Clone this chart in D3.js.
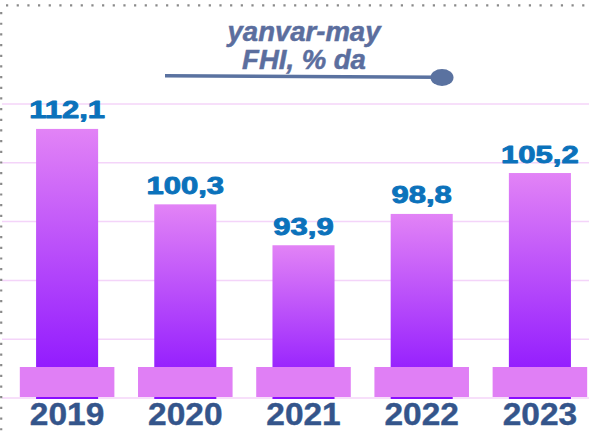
<!DOCTYPE html>
<html>
<head>
<meta charset="utf-8">
<script src="https://cdn.jsdelivr.net/npm/d3@7"></script>
<style>
  body { margin: 0; background: #fff; }
  svg { display: block; }
</style>
</head>
<body>
<div class="canvas"></div>
<script>
// data
const years = ["2019", "2020", "2021", "2022", "2023"]
const values = [112.1, 100.3, 93.9, 98.8, 105.2]
const valueLabels = ["112,1", "100,3", "93,9", "98,8", "105,2"]
const titleLines = ["yanvar-may", "FHI, % da"]
const gridCount = 5

const width = 589
const height = 432

const svg = d3.select(".canvas").append("svg")
    .attr("width", width)
    .attr("height", height)

// gradient for the bars
const defs = svg.append("defs")
const grad = defs.append("linearGradient")
    .attr("id", "barGrad")
    .attr("x1", 0).attr("y1", 0)
    .attr("x2", 0).attr("y2", 1)
grad.append("stop").attr("offset", "0%").attr("stop-color", "#e283f6")
grad.append("stop").attr("offset", "100%").attr("stop-color", "#880eff")

// scales
const x = d3.scaleBand()
    .domain(years)
    .range([8, 599])
const y = d3.scaleLinear()
    .domain([70, 116])
    .range([398, 104])

// gridlines
const gridVals = d3.range(gridCount + 1).map(i => y.domain()[0] + i * (y.domain()[1] - y.domain()[0]) / gridCount)
svg.append("g").selectAll("line")
    .data(gridVals)
    .enter()
    .append("line")
    .attr("x1", 2).attr("x2", width)
    .attr("y1", d => y(d)).attr("y2", d => y(d))
    .attr("stroke", "#f4d4f9")
    .attr("stroke-width", 1.5)

// dotted frame (top and left)
svg.append("line")
    .attr("x1", 6).attr("x2", width).attr("y1", 5.3).attr("y2", 5.3)
    .attr("stroke", "#8a8a8a").attr("stroke-width", 2.2)
    .attr("stroke-dasharray", "2.2 8.47")
svg.append("line")
    .attr("x1", 1.2).attr("x2", 1.2).attr("y1", 12).attr("y2", height)
    .attr("stroke", "#8a8a8a").attr("stroke-width", 2.2)
    .attr("stroke-dasharray", "2.2 8.47")

// bars
const barW = x.bandwidth() * 0.525
const baseW = x.bandwidth() * 0.80
svg.append("g").selectAll("rect")
    .data(values)
    .enter()
    .append("rect")
    .attr("x", (d, i) => x(years[i]) + (x.bandwidth() - barW) / 2)
    .attr("y", d => y(d))
    .attr("width", barW)
    .attr("height", d => y(y.domain()[0]) + 1 - y(d))
    .attr("fill", "url(#barGrad)")

// pink bases
svg.append("g").selectAll("rect")
    .data(years)
    .enter()
    .append("rect")
    .attr("x", d => x(d) + (x.bandwidth() - baseW) / 2)
    .attr("y", y(y.domain()[0]) - 31)
    .attr("width", baseW)
    .attr("height", 30)
    .attr("fill", "#e07ff5")

// value labels
svg.append("g").selectAll("text")
    .data(values)
    .enter()
    .append("text")
    .attr("transform", (d, i) => `translate(${x(years[i]) + x.bandwidth() / 2}, ${y(d) - 10.5}) scale(1.32, 1)`)
    .attr("text-anchor", "middle")
    .attr("font-family", "'Liberation Sans', Arial, sans-serif")
    .attr("font-weight", "bold")
    .attr("font-size", 23.5)
    .attr("fill", "#0b72bb")
    .attr("stroke", "#0b72bb")
    .attr("stroke-width", 0.9)
    .attr("stroke-linejoin", "round")
    .text((d, i) => valueLabels[i])

// year labels
svg.append("g").selectAll("text")
    .data(years)
    .enter()
    .append("text")
    .attr("transform", d => `translate(${x(d) + x.bandwidth() / 2}, 425) scale(1.08, 1)`)
    .attr("text-anchor", "middle")
    .attr("font-family", "'Liberation Sans', Arial, sans-serif")
    .attr("font-weight", "bold")
    .attr("font-size", 31)
    .attr("fill", "#34558b")
    .attr("stroke", "#34558b")
    .attr("stroke-width", 0.4)
    .text(d => d)

// title
svg.append("g").selectAll("text")
    .data(titleLines)
    .enter()
    .append("text")
    .attr("x", 304)
    .attr("y", (d, i) => 41 + i * 28)
    .attr("text-anchor", "middle")
    .attr("font-family", "'Liberation Sans', Arial, sans-serif")
    .attr("font-weight", "bold")
    .attr("font-style", "italic")
    .attr("font-size", 27.5)
    .attr("fill", "#5b6e9e")
    .attr("stroke", "#5b6e9e")
    .attr("stroke-width", 0.5)
    .text(d => d)

// title pointer line
svg.append("line")
    .attr("x1", 165).attr("y1", 75.8)
    .attr("x2", 438).attr("y2", 77.3)
    .attr("stroke", "#5a72a0")
    .attr("stroke-width", 3.5)
svg.append("ellipse")
    .attr("cx", 442).attr("cy", 77.5)
    .attr("rx", 11.5).attr("ry", 8.5)
    .attr("fill", "#5a72a0")
</script>
</body>
</html>
